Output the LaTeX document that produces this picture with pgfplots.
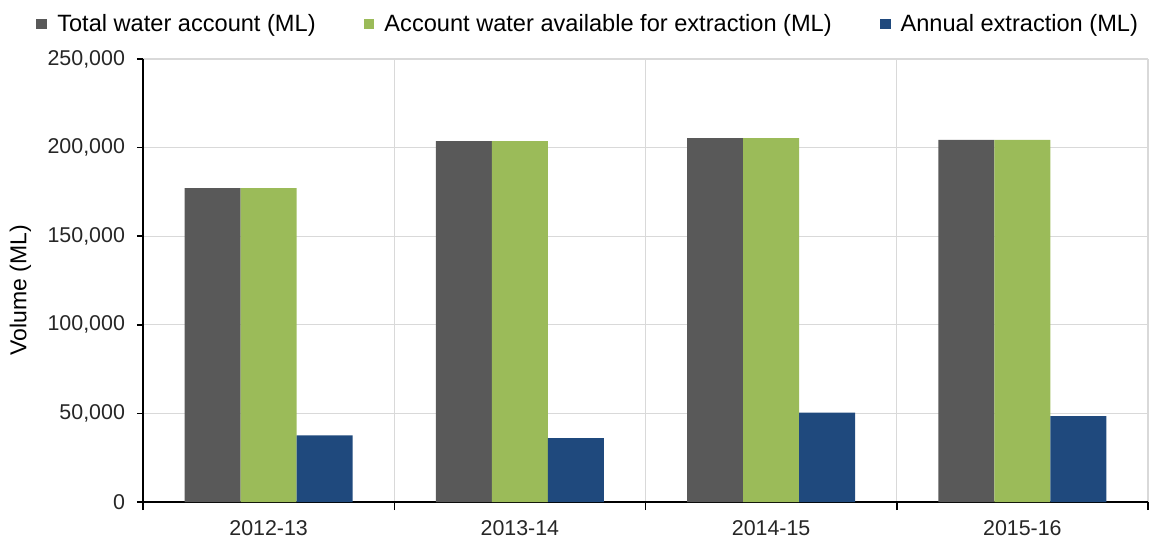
\documentclass[border=0pt]{standalone}
\usepackage{pgfplots}
\pgfplotsset{compat=1.18}
\usepackage{fontspec}
\setmainfont{Liberation Sans}

\definecolor{totalgray}{RGB}{89,89,89}
\definecolor{availgreen}{RGB}{155,187,89}
\definecolor{extblue}{RGB}{31,73,125}
\definecolor{gridgray}{RGB}{217,217,217}

\pgfplotsset{
  sqlegend/.style={legend image code/.code={\fill[##1] (0pt,-2.7pt) rectangle (5.4pt,2.7pt);}},
}

\begin{document}
\begin{tikzpicture}
\begin{axis}[
    name=ax,
    scale only axis,
    width=502.5pt,
    height=221.5pt,
    ybar=0pt,
    bar width=0.223,
    xmin=-0.5, xmax=3.5,
    ymin=0, ymax=250000,
    xtick={0,1,2,3},
    xticklabels={2012-13,2013-14,2014-15,2015-16},
    minor xtick={-0.5,0.5,1.5,2.5,3.5},
    ytick={0,50000,100000,150000,200000,250000},
    scaled y ticks=false,
    yticklabel={\pgfmathprintnumber[/pgf/number format/.cd,fixed,1000 sep={,},assume math mode=true]{\tick}},
    tick label style={font=\fontsize{10.7}{12}\selectfont, text=black!85},
    yticklabel style={xshift=-2.5pt},
    xticklabel style={yshift=-2.5pt},
    ylabel={Volume (ML)},
    ylabel style={at={(axis description cs:-0.122,0.478)}, anchor=center, font=\fontsize{11.5}{13}\selectfont},
    axis x line*=bottom,
    axis y line*=left,
    axis line style={black, line width=0.75pt},
    tick align=outside,
    major tick length=3pt,
    minor tick length=4pt,
    major x tick style={draw=none},
    tick style={black, line width=0.75pt},
    ymajorgrids,
    xminorgrids,
    major grid style={gridgray, line width=0.6pt},
    minor grid style={gridgray, line width=0.6pt},
    legend style={at={(0.444,1.079)}, anchor=center, draw=none, fill=none,
        font=\fontsize{11.8}{14}\selectfont, inner sep=0pt,
        /tikz/every odd column/.append style={column sep=3pt},
        /tikz/every even column/.append style={column sep=22pt}},
    legend columns=-1,
    legend cell align=left,
]

\addplot[fill=totalgray, draw=none, sqlegend] coordinates {
    (0,177100) (1,203600) (2,205300) (3,204300)
};
\addplot[fill=availgreen, draw=none, sqlegend] coordinates {
    (0,177100) (1,203600) (2,205300) (3,204300)
};
\addplot[fill=extblue, draw=none, sqlegend] coordinates {
    (0,37600) (1,36100) (2,50500) (3,48500)
};
\legend{Total water account (ML), Account water available for extraction (ML), Annual extraction (ML)}

\end{axis}
\pgfresetboundingbox
\path[use as bounding box] ([xshift=-71.5pt,yshift=-19pt]ax.south west) rectangle ++(574.5pt,270pt);
\end{tikzpicture}
\end{document}
